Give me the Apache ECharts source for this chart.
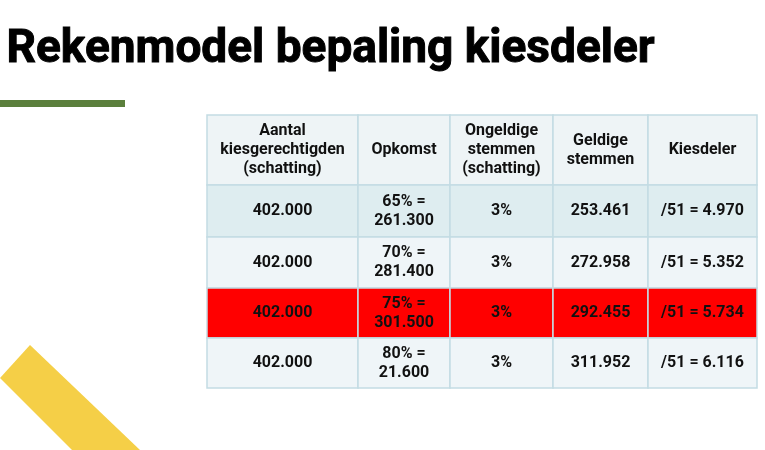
<!DOCTYPE html>
<html><head><meta charset="utf-8">
<script src="https://cdn.jsdelivr.net/npm/echarts@6/dist/echarts.min.js"></script>
<style>html,body{margin:0;padding:0;background:#fff}#c{width:765px;height:450px}</style>
</head><body><div id="c"></div>
<script>
const headers = ["Aantal\nkiesgerechtigden\n(schatting)", "Opkomst", "Ongeldige\nstemmen\n(schatting)", "Geldige\nstemmen", "Kiesdeler"];
const colAantal = ["402.000", "402.000", "402.000", "402.000"];
const colOpkomst = ["65% =\n261.300", "70% =\n281.400", "75% =\n301.500", "80% =\n21.600"];
const colOngeldig = ["3%", "3%", "3%", "3%"];
const colGeldig = ["253.461", "272.958", "292.455", "311.952"];
const colKiesdeler = ["/51 = 4.970", "/51 = 5.352", "/51 = 5.734", "/51 = 6.116"];

const colEdges = [0, 151, 243, 346, 441, 550];
const rowEdges = [0, 70, 122, 173, 223, 273];
const rowFills = ["#eef4f6", "#deedf0", "#eff5f8", "#ff0000", "#eff5f8"];

const cols = [colAantal, colOpkomst, colOngeldig, colGeldig, colKiesdeler];
const cells = [];
for (let r = 0; r < 5; r++) for (let c = 0; c < 5; c++) {
  const txt = r === 0 ? headers[c] : cols[c][r - 1];
  cells.push([colEdges[c], colEdges[c + 1], rowEdges[r], rowEdges[r + 1], txt, r]);
}
const chart = echarts.init(document.getElementById('c'));
chart.setOption({
  animation: false,
  grid: { left: 207, top: 115, width: 550, height: 273 },
  xAxis: { type: 'value', min: 0, max: 550, show: false },
  yAxis: { type: 'value', min: 0, max: 273, inverse: true, show: false },
  graphic: [
    { type: 'text', left: 6, top: 27, style: { text: 'Rekenmodel bepaling kiesdeler', font: 'bold 46px Roboto', fill: '#000', stroke: '#000', lineWidth: 1 } },
    { type: 'rect', shape: { x: 0, y: 100, width: 125, height: 7 }, style: { fill: '#5b7f3c' } },
    { type: 'polygon', shape: { points: [[0, 378], [30, 345], [140, 450], [72, 450]] }, style: { fill: '#f5cf47' } }
  ],
  series: [{
    type: 'custom',
    data: cells,
    renderItem: function (params, api) {
      const p0 = api.coord([api.value(0), api.value(2)]);
      const p1 = api.coord([api.value(1), api.value(3)]);
      const r = api.value(5);
      const d = cells[params.dataIndex];
      return {
        type: 'group', children: [
          { type: 'rect', shape: { x: p0[0], y: p0[1], width: p1[0] - p0[0], height: p1[1] - p0[1] },
            style: { fill: rowFills[r], stroke: '#c3dce3', lineWidth: 1.5 } },
          { type: 'text', style: { text: d[4], x: (p0[0] + p1[0]) / 2, y: (p0[1] + p1[1]) / 2,
            align: 'center', verticalAlign: 'middle', font: 'bold 16px Roboto', fill: '#111', lineHeight: 19 } }
        ]
      };
    }
  }]
});
</script></body></html>
